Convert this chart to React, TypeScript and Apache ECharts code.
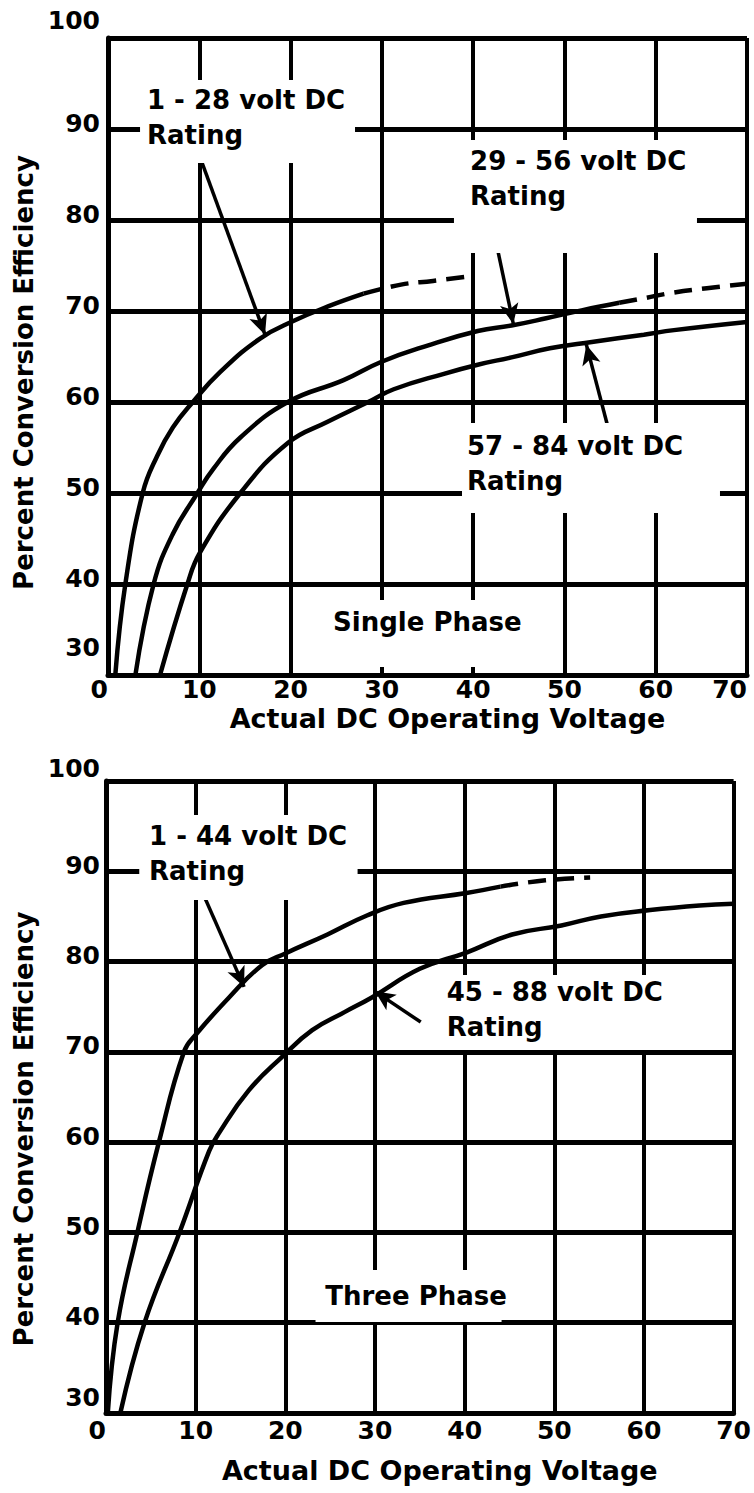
import React, { useEffect, useRef } from "react";
import * as echarts from "echarts";

// ---------- data (Actual DC operating voltage, percent conversion efficiency) ----------
const xTickStep = 10;
const yRange = [30, 100];

// Single phase
const single1to28: [number, number][] = [
  [0.8, 30], [1.9, 40], [3.8, 50], [5.4, 54.1], [7.1, 57.2], [9.3, 60], [12.3, 63.3],
  [16.7, 67], [20.3, 68.9], [24.1, 70.5], [28, 71.9],
];
const single1to28Ext: [number, number][] = [
  [28, 71.9], [32.1, 72.9], [35.6, 73.3], [39.5, 73.8],
];
const single29to56: [number, number][] = [
  [3.0, 30], [5.0, 40], [7.1, 45.5], [9.8, 50], [11.5, 52.6], [14.5, 56.1], [19.7, 60],
  [25.8, 62.4], [29.9, 64.4], [35, 66.2], [40.5, 67.8], [44.2, 68.4], [48, 69.2],
  [52, 70.1], [56, 70.9],
];
const single29to56Ext: [number, number][] = [
  [56, 70.9], [58.7, 71.4], [61.8, 72], [65.6, 72.5], [70, 73],
];
const single57to84: [number, number][] = [
  [5.7, 30], [8.7, 40], [10.1, 43.5], [14.5, 50], [19.7, 55.5], [24, 57.8], [28.5, 60],
  [31.3, 61.4], [36.8, 63.1], [40.5, 64.1], [44.2, 64.9], [48.4, 65.9], [53, 66.6],
  [58.7, 67.4], [62, 67.9], [70, 68.8],
];

// Three phase
const three1to44: [number, number][] = [
  [0.2, 30], [1.3, 40], [3.5, 50], [5.9, 60], [8.7, 70], [10.1, 72], [13.7, 76],
  [17.4, 79.6], [20, 80.9], [24.7, 83], [29.1, 85.1], [33.2, 86.5], [40.2, 87.6], [44, 88.3],
];
const three1to44Ext: [number, number][] = [
  [44, 88.3], [49, 89], [54, 89.3],
];
const three45to88: [number, number][] = [
  [1.6, 30], [4.3, 40], [8.2, 50], [11.5, 59], [12.6, 61], [15.9, 65.7],
  [19.7, 69.5], [23, 72.4], [26.6, 74.4], [29.6, 76], [35, 79.2], [40.2, 81], [45.3, 83],
  [50.8, 84], [55.2, 85], [60.7, 85.7], [66.2, 86.2], [70, 86.4],
];

// Annotations (data coordinates)
const annotations = [
  { grid: 0, text: "1 - 28 volt DC\nRating", at: [4.27, 94.84], box: [[3.51, 95.38], [27.06, 86.26]] },
  { grid: 0, text: "29 - 56 volt DC\nRating", at: [39.66, 88.24], box: [[37.9, 88.79], [64.52, 76.37]] },
  { grid: 0, text: "57 - 84 volt DC\nRating", at: [39.33, 56.92], box: [[38.78, 57.69], [67.04, 47.8]] },
  { grid: 0, text: "Single Phase", at: [24.65, 37.58], box: [[23.22, 38.24], [44.04, 30.88]] },
  { grid: 1, text: "1 - 44 volt DC\nRating", at: [4.8, 95.68], box: [[3.71, 96.23], [28.06, 86.82]] },
  { grid: 1, text: "45 - 88 volt DC\nRating", at: [38.0, 78.4], box: [[36.47, 78.51], [64.86, 70.21]] },
  { grid: 1, text: "Three Phase", at: [24.46, 44.73], box: [[23.37, 45.84], [44.12, 40.08]] },
];
const topArrows = [
  [[10.3, 86.3], [17.2, 67.4]],
  [[42.1, 79.5], [44.4, 68.6]],
  [[54.7, 57.5], [52.4, 66.3]],
];
const bottomArrows = [
  [[10.3, 88.7], [15.4, 77.2]],
  [[35.1, 73.3], [30.0, 76.7]],
];

const FONT = '"DejaVu Sans", sans-serif';

function xAxisCfg(gridIndex: number, labelMargin: number, nameGap: number, alignMax: boolean) {
  return {
    type: "value",
    gridIndex,
    min: 0,
    max: 70,
    interval: xTickStep,
    axisLine: { show: true, lineStyle: { color: "#000", width: 5 } },
    axisTick: { show: false },
    splitLine: { show: true, lineStyle: { color: "#000", width: 4 } },
    axisLabel: {
      color: "#000",
      fontSize: 25,
      fontWeight: "bold",
      fontFamily: FONT,
      margin: labelMargin,
      alignMinLabel: "right",
      alignMaxLabel: alignMax ? "right" : "center",
    },
    name: "Actual DC Operating Voltage",
    nameLocation: "middle",
    nameGap,
    nameTextStyle: {
      color: "#000",
      fontSize: 27,
      fontWeight: "bold",
      fontFamily: FONT,
      padding: [0, 0, 0, 40],
    },
  };
}

function yAxisCfg(gridIndex: number, hiPad: number, loPad: number, nameGap: number, namePadRight: number, labelMargin: number) {
  const st = { fontSize: 25, fontWeight: "bold", fontFamily: FONT, color: "#000" };
  return {
    type: "value",
    gridIndex,
    min: yRange[0],
    max: yRange[1],
    interval: 10,
    axisLine: { show: true, lineStyle: { color: "#000", width: 5 } },
    axisTick: { show: false },
    splitLine: { show: true, lineStyle: { color: "#000", width: 5 } },
    axisLabel: {
      ...st,
      margin: labelMargin,
      formatter: (v: number) =>
        v === yRange[1] ? `{a|${v}}` : v === yRange[0] ? `{c|${v}}` : `{b|${v}}`,
      rich: {
        a: { ...st, padding: [0, 0, hiPad, 0] },
        b: { ...st, padding: [0, 0, 12, 0] },
        c: { ...st, padding: [0, 0, loPad, 0] },
      },
    },
    name: "Percent Conversion Efficiency",
    nameLocation: "middle",
    nameGap,
    nameTextStyle: {
      color: "#000",
      fontSize: 26,
      fontWeight: "bold",
      fontFamily: FONT,
      padding: [0, namePadRight, 0, 0],
    },
  };
}

function lineSeries(data: [number, number][], idx: number, dashed: boolean, arrows?: number[][][]) {
  const s: any = {
    type: "line",
    xAxisIndex: idx,
    yAxisIndex: idx,
    data,
    showSymbol: false,
    symbol: "none",
    smooth: 0.45,
    silent: true,
    z: 100,
    lineStyle: { color: "#000", width: 4.5, type: dashed ? [18, 10] : "solid" },
  };
  if (arrows) {
    s.markLine = {
      silent: true,
      symbol: ["none", "arrow"],
      symbolSize: [14, 20],
      label: { show: false },
      lineStyle: { color: "#000", width: 3.5, type: "solid" },
      data: arrows.map((a) => [{ coord: a[0] }, { coord: a[1] }]),
    };
  }
  return s;
}

export default function App() {
  const ref = useRef<HTMLDivElement>(null);
  useEffect(() => {
    const chart = echarts.init(ref.current!, null, { renderer: "svg" });
    const option: any = {
      animation: false,
      backgroundColor: "#fff",
      grid: [
        { left: 108, top: 38, width: 639, height: 637 },
        { left: 106, top: 781, width: 641, height: 632 },
      ],
      xAxis: [xAxisCfg(0, 2, 30, true), xAxisCfg(1, 5, 44, false)],
      yAxis: [yAxisCfg(0, 36, 56, 52, 32, 8), yAxisCfg(1, 26, 32, 50, 64, 6)],
      series: [
        lineSeries(single1to28, 0, false, topArrows),
        lineSeries(single1to28Ext, 0, true),
        lineSeries(single29to56, 0, false),
        lineSeries(single29to56Ext, 0, true),
        lineSeries(single57to84, 0, false),
        lineSeries(three1to44, 1, false, bottomArrows),
        lineSeries(three1to44Ext, 1, true),
        lineSeries(three45to88, 1, false),
      ],
    };
    chart.setOption(option);

    const graphic: any[] = [];
    annotations.forEach((a) => {
      const p1 = chart.convertToPixel({ gridIndex: a.grid } as any, a.box[0]) as number[];
      const p2 = chart.convertToPixel({ gridIndex: a.grid } as any, a.box[1]) as number[];
      graphic.push({
        type: "rect",
        z: 50,
        silent: true,
        shape: { x: p1[0], y: p1[1], width: p2[0] - p1[0], height: p2[1] - p1[1] },
        style: { fill: "#fff" },
      });
      const t = chart.convertToPixel({ gridIndex: a.grid } as any, a.at) as number[];
      graphic.push({
        type: "text",
        z: 51,
        silent: true,
        x: t[0],
        y: t[1] - 2,
        style: {
          text: a.text,
          fill: "#000",
          fontSize: 26,
          fontWeight: "bold",
          fontFamily: FONT,
          lineHeight: 35,
          align: "left",
          verticalAlign: "top",
        },
      });
    });
    chart.setOption({ graphic });

    return () => chart.dispose();
  }, []);
  return (
    <div
      ref={ref}
      style={{ position: "absolute", left: 0, top: 0, width: 754, height: 1493 }}
    />
  );
}
